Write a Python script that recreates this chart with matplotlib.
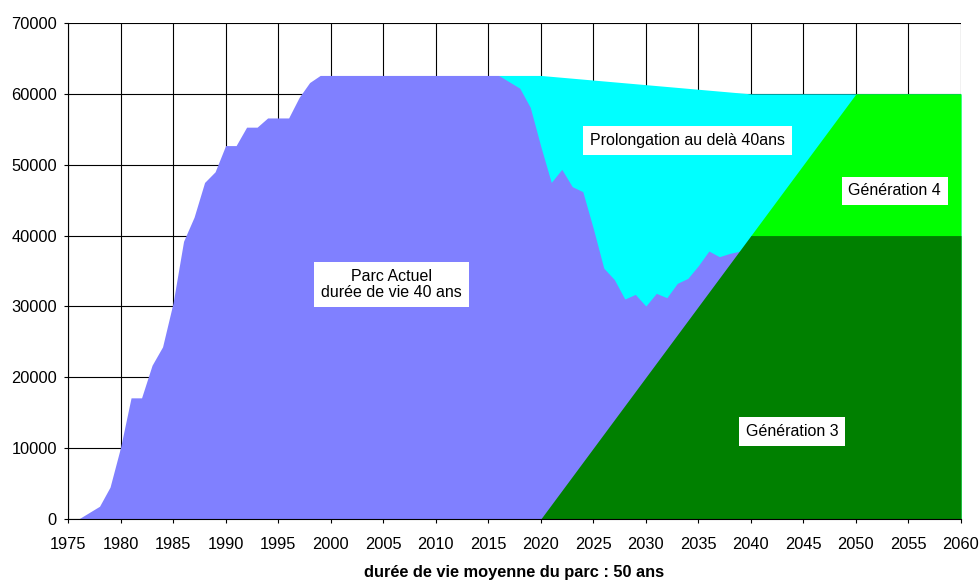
import matplotlib
matplotlib.use("Agg")
import matplotlib.pyplot as plt

plt.rcParams['font.family'] = ['Liberation Sans', 'DejaVu Sans']

# parc actuel (top of the purple area), one value per year
parc_years = list(range(1976, 2040))
parc_actuel = [0, 900, 1800, 4500, 10100, 17100, 17100, 21700, 24300, 30500,
               39200, 42600, 47500, 49000, 52700, 52700, 55300, 55300, 56600, 56600,
               56600, 59500, 61600, 62600, 62600, 62600, 62600, 62600, 62600, 62600,
               62600, 62600, 62600, 62600, 62600, 62600, 62600, 62600, 62600, 62600,
               62600, 61700, 60800, 58100, 52600, 47500, 49350, 46900, 46200, 41000,
               35400, 33800, 31050, 31700, 30060, 31850, 31230, 33260, 33960, 35750,
               37820, 37020, 37490, 37820]

# prolongation au dela de 40 ans (upper envelope)
prolong_years = [2016, 2020, 2040, 2060]
prolongation = [62600, 62600, 60000, 60000]

# generation 3 and generation 4 (cumulated)
gen3_years = [2020, 2040, 2060]
generation3 = [0, 40000, 40000]
gen4_years = [2040, 2050, 2060]
generation4 = [40000, 60000, 60000]

c_parc = '#8080FF'
c_prolong = '#00FFFF'
c_gen4 = '#00FF00'
c_gen3 = '#008000'

fig, ax = plt.subplots(figsize=(9.8, 5.81), dpi=100)
fig.subplots_adjust(left=0.0694, right=0.9806, bottom=0.1067, top=0.9604)

ax.fill_between(prolong_years, 0, prolongation, color=c_prolong, lw=0)
ax.fill_between(parc_years, 0, parc_actuel, color=c_parc, lw=0)
ax.fill_between(gen4_years, 0, generation4, color=c_gen4, lw=0)
ax.fill_between(gen3_years, 0, generation3, color=c_gen3, lw=0)

ax.set_xlim(1975, 2060)
ax.set_ylim(0, 70000)
ax.set_xticks(range(1975, 2061, 5))
ax.set_yticks(range(0, 70001, 10000))
ax.tick_params(labelsize=11.8, direction='out', length=3, width=0.8, colors='black')
ax.tick_params(axis='x', pad=10)
ax.tick_params(axis='y', pad=5)
ax.set_axisbelow(True)
ax.grid(True, color='black', linewidth=0.8)
for s in ['top', 'right']:
    ax.spines[s].set_visible(False)
for s in ['left', 'bottom']:
    ax.spines[s].set_linewidth(0.8)

ax.set_xlabel("durée de vie moyenne du parc : 50 ans", fontsize=11.8, fontweight='bold', labelpad=9)

box = dict(facecolor='white', edgecolor='none', pad=5)
ax.text(2005.8, 33100, "Parc Actuel\ndurée de vie 40 ans", ha='center', va='center',
        fontsize=11.5, bbox=box, linespacing=1.15)
ax.text(2034.0, 53400, "Prolongation au delà 40ans", ha='center', va='center',
        fontsize=11.5, bbox=box)
ax.text(2053.7, 46300, "Génération 4", ha='center', va='center', fontsize=11.5, bbox=box)
ax.text(2043.9, 12300, "Génération 3", ha='center', va='center', fontsize=11.5, bbox=box)

fig.savefig("out.png", dpi=100)
